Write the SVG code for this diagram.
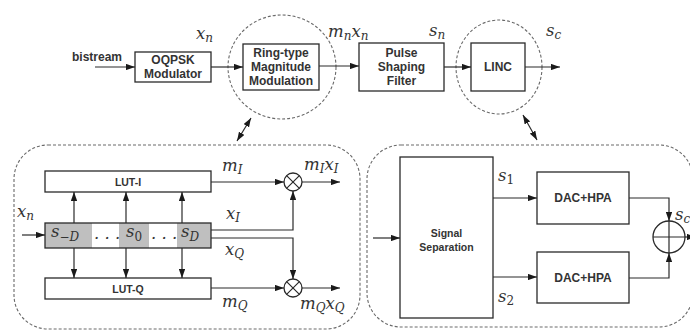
<svg xmlns="http://www.w3.org/2000/svg" width="690" height="331" viewBox="0 0 690 331">
  <style>
    .box { fill: #ffffff; stroke: #2a2a2a; stroke-width: 1.3; }
    .cell { fill: #bfbfbf; stroke: none; }
    .wire { fill: none; stroke: #2a2a2a; stroke-width: 1.2; }
    .arr { marker-end: url(#ah); }
    .dbl { marker-start: url(#ah); marker-end: url(#ah); }
    .dash { fill: none; stroke: #6a6a6a; stroke-width: 1.1; stroke-dasharray: 3 2; }
    .lbl { font-family: "Liberation Sans", Arial, sans-serif; font-weight: bold; font-size: 12px; fill: #333333; text-anchor: middle; }
    .m { font-family: "DejaVu Serif", "Liberation Serif", serif; font-style: italic; font-size: 16.5px; fill: #333333; }
    .sub { font-size: 12px; }
    .up { font-style: normal; }
    .op { fill: #ffffff; stroke: #2a2a2a; stroke-width: 1.3; }
  </style>
  <defs>
    <marker id="ah" viewBox="0 0 10 7" refX="10" refY="3.5" markerWidth="9" markerHeight="6.5" markerUnits="userSpaceOnUse" orient="auto-start-reverse">
      <path d="M0,0 L10,3.5 L0,7 z" fill="#1a1a1a"/>
    </marker>
  </defs>

  <rect width="690" height="331" fill="#ffffff"/>

  <!-- zoom regions -->
  <g id="zoom-regions">
    <ellipse class="dash" cx="282" cy="67" rx="54" ry="52"/>
    <ellipse class="dash" cx="499" cy="67" rx="43" ry="47"/>
    <rect class="dash" x="14" y="145" width="346" height="184" rx="34" ry="34"/>
    <rect class="dash" x="367" y="145" width="326" height="182" rx="34" ry="34"/>
  </g>

  <!-- top chain -->
  <g id="bitstream-label"><text class="lbl" x="97" y="61">bistream</text></g>
  <g id="oqpsk">
    <rect class="box" x="135" y="52" width="76" height="30"/>
    <text class="lbl" x="173" y="64">OQPSK</text>
    <text class="lbl" x="173" y="78">Modulator</text>
  </g>
  <g id="ring-type">
    <rect class="box" x="243" y="44" width="76" height="46"/>
    <text class="lbl" x="281" y="57">Ring-type</text>
    <text class="lbl" x="281" y="71">Magnitude</text>
    <text class="lbl" x="281" y="85">Modulation</text>
  </g>
  <g id="pulse-shaping">
    <rect class="box" x="359" y="43" width="85" height="48"/>
    <text class="lbl" x="401.5" y="57">Pulse</text>
    <text class="lbl" x="401.5" y="71">Shaping</text>
    <text class="lbl" x="401.5" y="85">Filter</text>
  </g>
  <g id="linc">
    <rect class="box" x="471" y="43" width="54" height="48"/>
    <text class="lbl" x="498" y="71">LINC</text>
  </g>

  <!-- magnitude modulation detail -->
  <g id="lut-i">
    <rect class="box" x="45" y="171" width="166" height="21"/>
    <text class="lbl" x="128" y="186" style="font-size:10.5px">LUT-I</text>
  </g>
  <g id="lut-q">
    <rect class="box" x="45" y="278" width="166" height="21"/>
    <text class="lbl" x="128" y="293" style="font-size:10.5px">LUT-Q</text>
  </g>
  <g id="shift-register">
    <rect x="45" y="223" width="166" height="25" fill="#ffffff"/>
    <rect class="cell" x="45" y="223" width="47" height="25"/>
    <rect class="cell" x="119" y="223" width="30" height="25"/>
    <rect class="cell" x="177" y="223" width="34" height="25"/>
    <rect x="45" y="223" width="166" height="25" fill="none" stroke="#2a2a2a" stroke-width="1.3"/>
    <text class="m" x="51" y="237">s<tspan class="sub" dy="4">−D</tspan></text>
    <text class="m" x="94" y="239">. . .</text>
    <text class="m" x="126" y="237">s<tspan class="sub up" dy="4">0</tspan></text>
    <text class="m" x="151" y="239">. . .</text>
    <text class="m" x="181" y="237">s<tspan class="sub" dy="4">D</tspan></text>
  </g>
  <g id="mult-i">
    <circle class="op" cx="293" cy="182" r="9"/>
    <path class="wire" d="M286.6,175.6 L299.4,188.4 M299.4,175.6 L286.6,188.4"/>
  </g>
  <g id="mult-q">
    <circle class="op" cx="293" cy="288" r="9"/>
    <path class="wire" d="M286.6,281.6 L299.4,294.4 M299.4,281.6 L286.6,294.4"/>
  </g>

  <!-- LINC detail -->
  <g id="signal-separation">
    <rect class="box" x="400" y="157" width="93" height="161"/>
    <text class="lbl" x="446.5" y="237" style="font-size:10.5px">Signal</text>
    <text class="lbl" x="446.5" y="251" style="font-size:10.5px">Separation</text>
  </g>
  <g id="dac-hpa-1">
    <rect class="box" x="537" y="172" width="92" height="52"/>
    <text class="lbl" x="583" y="202">DAC+HPA</text>
  </g>
  <g id="dac-hpa-2">
    <rect class="box" x="537" y="252" width="92" height="51"/>
    <text class="lbl" x="583" y="282">DAC+HPA</text>
  </g>
  <g id="adder">
    <circle class="op" cx="669" cy="237" r="16"/>
    <path class="wire" d="M653,237 L685,237 M669,221 L669,253"/>
  </g>

  <!-- connectors -->
  <g id="connectors">
    <path class="wire arr" d="M95,67 L135,67"/>
    <path class="wire arr" d="M211,67 L243,67"/>
    <path class="wire arr" d="M319,66 L359,66"/>
    <path class="wire arr" d="M444,67 L471,67"/>
    <path class="wire arr" d="M525,67 L560,67"/>
    <path class="wire dbl" d="M251,118 L237,141"/>
    <path class="wire dbl" d="M523,115 L537,140"/>

    <path class="wire arr" d="M22,235 L45,235"/>
    <path class="wire arr" d="M74,223 L74,192"/>
    <path class="wire arr" d="M126,223 L126,192"/>
    <path class="wire arr" d="M182,223 L182,192"/>
    <path class="wire arr" d="M74,248 L74,278"/>
    <path class="wire arr" d="M126,248 L126,278"/>
    <path class="wire arr" d="M182,248 L182,278"/>
    <path class="wire arr" d="M211,182 L284,182"/>
    <path class="wire arr" d="M302,182 L340,182"/>
    <path class="wire arr" d="M211,230 L293,230 L293,191"/>
    <path class="wire arr" d="M211,238 L293,238 L293,279"/>
    <path class="wire arr" d="M211,288 L284,288"/>
    <path class="wire arr" d="M302,288 L340,288"/>

    <path class="wire arr" d="M373,238 L400,238"/>
    <path class="wire arr" d="M493,198 L537,198"/>
    <path class="wire arr" d="M493,277 L537,277"/>
    <path class="wire arr" d="M629,198 L669,198 L669,221"/>
    <path class="wire arr" d="M629,278 L669,278 L669,253"/>
    <path class="wire arr" d="M685,237 L696,237"/>
  </g>

  <!-- signal labels -->
  <g id="signal-labels">
    <text class="m" x="196" y="39">x<tspan class="sub" dy="3">n</tspan></text>
    <text class="m" x="328" y="37">m<tspan class="sub" dy="3">n</tspan><tspan dy="-3">x</tspan><tspan class="sub" dy="3">n</tspan></text>
    <text class="m" x="429" y="36">s<tspan class="sub" dy="3">n</tspan></text>
    <text class="m" x="546" y="36">s<tspan class="sub" dy="3">c</tspan></text>

    <text class="m" x="17" y="217">x<tspan class="sub" dy="3">n</tspan></text>
    <text class="m" x="222" y="171">m<tspan class="sub" dy="3">I</tspan></text>
    <text class="m" x="304" y="170">m<tspan class="sub" dy="3">I</tspan><tspan dy="-3">x</tspan><tspan class="sub" dy="3">I</tspan></text>
    <text class="m" x="226" y="219">x<tspan class="sub" dy="3">I</tspan></text>
    <text class="m" x="225" y="255">x<tspan class="sub" dy="3">Q</tspan></text>
    <text class="m" x="222" y="307">m<tspan class="sub" dy="3">Q</tspan></text>
    <text class="m" x="300" y="309">m<tspan class="sub" dy="3">Q</tspan><tspan dy="-3">x</tspan><tspan class="sub" dy="3">Q</tspan></text>

    <text class="m" x="498" y="181">s<tspan class="sub up" dy="3">1</tspan></text>
    <text class="m" x="498" y="302">s<tspan class="sub up" dy="3">2</tspan></text>
    <text class="m" x="675" y="220">s<tspan class="sub" dy="3">c</tspan></text>
  </g>
</svg>
